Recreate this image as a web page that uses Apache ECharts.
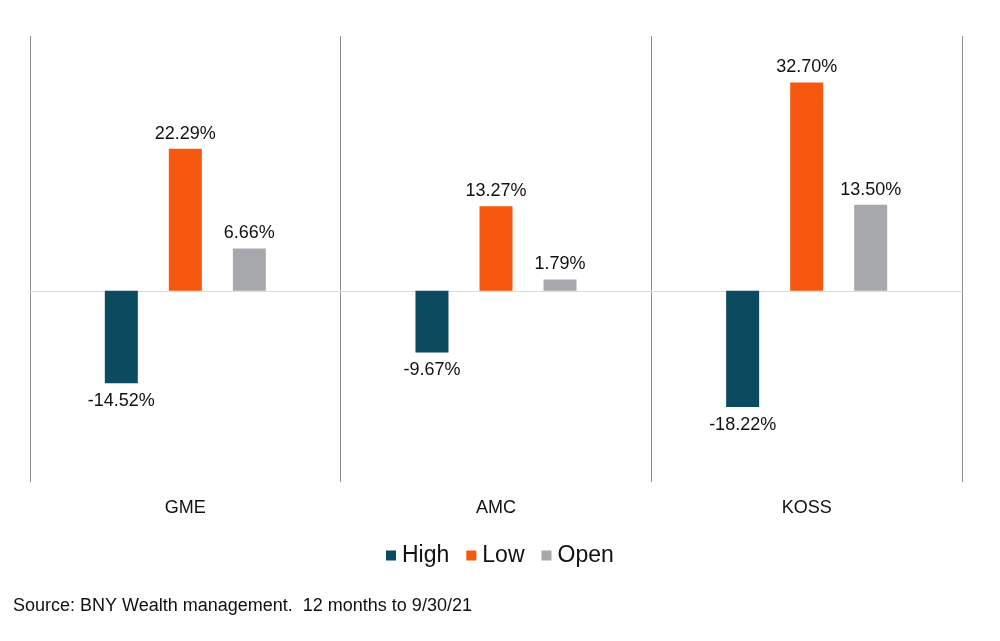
<!DOCTYPE html>
<html><head><meta charset="utf-8">
<script src="https://cdn.jsdelivr.net/npm/echarts@6/dist/echarts.min.js"></script>
<style>html,body{margin:0;padding:0;background:#fff}#c{width:1000px;height:641px}</style>
</head><body><div id="c"></div>
<script>
const categories = ['GME', 'AMC', 'KOSS'];
const highValues = [-14.52, -9.67, -18.22];
const lowValues = [22.29, 13.27, 32.70];
const openValues = [6.66, 1.79, 13.50];
const seriesNames = ['High', 'Low', 'Open'];
const sourceText = 'Source: BNY Wealth management.  12 months to 9/30/21';

const colors = ['#0b4a5f', '#f6580f', '#a7a8ab'];
const font = 'Liberation Sans, Arial, sans-serif';
const chart = echarts.init(document.getElementById('c'));
function mk(name, values, color) {
  return {
    name, type: 'bar', barWidth: 33, barGap: '94%',
    itemStyle: { color },
    data: values.map(v => ({ value: v, label: { position: v < 0 ? 'bottom' : 'top', distance: v < 0 ? 9 : 6 } })),
    label: { show: true, formatter: p => p.value.toFixed(2) + '%',
      color: '#111', fontSize: 18, fontFamily: font }
  };
}
const series = [mk(seriesNames[0], highValues, colors[0]), mk(seriesNames[1], lowValues, colors[1]), mk(seriesNames[2], openValues, colors[2])];
const gridLeft = 30, gridWidth = 932;
chart.setOption({
  animation: false,
  color: colors,
  grid: { left: gridLeft, right: 38, top: 36, bottom: 159 },
  xAxis: {
    type: 'category', data: categories, boundaryGap: true,
    axisLine: { onZero: true, lineStyle: { color: '#dcdcdc', width: 1 } },
    axisTick: { show: false },
    axisLabel: { show: false },
    splitLine: { show: true, interval: 0, lineStyle: { color: '#8f8f8f', width: 1 } }
  },
  yAxis: {
    type: 'value', min: -30, max: 40, interval: 10,
    show: false, splitLine: { show: false }
  },
  legend: {
    data: seriesNames, top: 539, left: 381, itemWidth: 10, itemHeight: 10, itemGap: 17,
    icon: 'rect', textStyle: { fontSize: 23, color: '#111', fontFamily: font, padding: [0, 0, 0, 1] }
  },
  graphic: [
    ...categories.map((c, i) => ({
      type: 'text', x: gridLeft + (gridWidth / categories.length) * (i + 0.5), y: 499,
      style: { text: c, fill: '#111', font: '18px ' + font, textAlign: 'center' }
    })),
    { type: 'text', x: 13, y: 597, style: { text: sourceText, fill: '#111', font: '18px ' + font } }
  ],
  series
});
</script></body></html>
